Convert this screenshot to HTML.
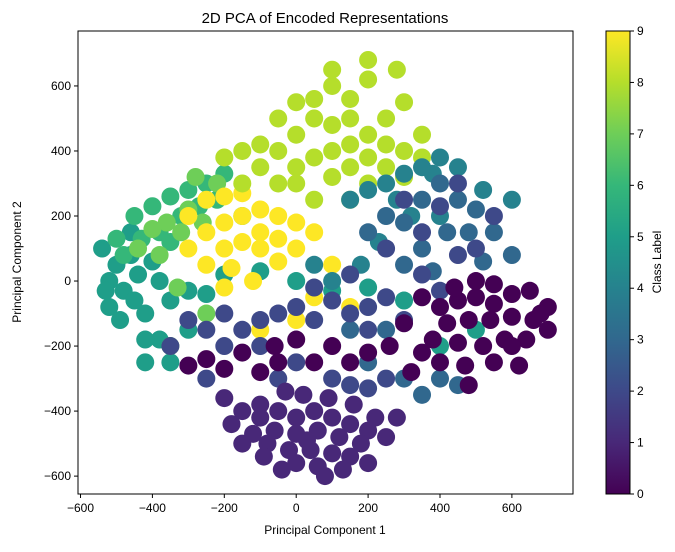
<!DOCTYPE html>
<html><head><meta charset="utf-8">
<style>
body{margin:0;background:#fff;}
svg text{font-family:"Liberation Sans","DejaVu Sans",sans-serif;fill:#000;}
</style></head>
<body>
<svg id="chart" width="675" height="547" viewBox="0 0 675 547">
<defs>
<linearGradient id="viridis" x1="0" y1="1" x2="0" y2="0">
<stop offset="0" stop-color="#440154"/><stop offset="0.111" stop-color="#482878"/>
<stop offset="0.222" stop-color="#3e4989"/><stop offset="0.333" stop-color="#31688e"/>
<stop offset="0.444" stop-color="#26828e"/><stop offset="0.556" stop-color="#1f9e89"/>
<stop offset="0.667" stop-color="#35b779"/><stop offset="0.778" stop-color="#6ece58"/>
<stop offset="0.889" stop-color="#b5de2b"/><stop offset="1" stop-color="#fde725"/>
</linearGradient>
<clipPath id="plotclip"><rect x="78" y="31" width="495" height="463"/></clipPath>
</defs>
<text x="325" y="23" font-size="15" text-anchor="middle">2D PCA of Encoded Representations</text>
<g id="points" clip-path="url(#plotclip)"></g>
<rect x="78" y="31" width="495" height="463" fill="none" stroke="#000" stroke-width="1"/>
<g id="xticks"></g>
<g id="yticks"></g>
<text x="325" y="534" font-size="12" text-anchor="middle">Principal Component 1</text>
<text x="21" y="262" font-size="12" text-anchor="middle" transform="rotate(-90 21 262)">Principal Component 2</text>
<rect x="606" y="31" width="24" height="463" fill="url(#viridis)" stroke="#000" stroke-width="1"/>
<g id="cbticks"></g>
<text x="661" y="262" font-size="12" text-anchor="middle" transform="rotate(-90 661 262)">Class Label</text>
</svg>
<script>
const classColors = ["#440154","#482878","#3e4989","#31688e","#26828e","#1f9e89","#35b779","#6ece58","#b5de2b","#fde725"];
const xTicks = [-600,-400,-200,0,200,400,600];
const yTicks = [-600,-400,-200,0,200,400,600];
const cbTicks = [0,1,2,3,4,5,6,7,8,9];
const drawOrder = [5,6,7,9,8,4,3,2,0,1];
const class0 = [350,-50,400,-80,450,-60,500,-50,550,-70,600,-40,650,-30,700,-80,420,-130,480,-120,540,-120,600,-110,660,-120,380,-180,450,-190,520,-200,580,-180,640,-180,400,-250,470,-260,350,-220,300,-130,550,-250,500,0,680,-100,260,-200,320,-280,-250,-240,-200,-270,-150,-220,-100,-280,-300,-260,-60,-200,0,-180,50,-250,100,-200,150,-250,600,-200,620,-260,550,-10,480,-320,440,-20,700,-150,-50,-250,200,-220];
const class1 = [-150,-400,-100,-420,-50,-400,0,-420,50,-400,100,-420,150,-440,200,-460,-120,-470,-60,-460,0,-470,60,-460,120,-480,180,-500,-20,-520,40,-520,100,-530,150,-540,0,-560,60,-570,-80,-500,220,-420,-180,-440,20,-350,90,-360,-30,-340,160,-380,250,-480,-200,-360,130,-580,-40,-580,-100,-380,200,-560,-150,-500,280,-420,30,-490,-90,-540,80,-600];
const class2 = [-300,-120,-250,-150,-200,-100,-150,-150,-100,-120,-50,-100,0,-80,50,-120,100,-60,150,-100,200,-80,-350,-200,-200,-200,-100,-200,0,-250,200,-150,250,-50,300,-120,350,20,400,-30,450,80,500,100,250,100,300,250,350,150,400,230,450,300,550,200,100,-300,150,-320,200,-330,-50,-300,250,-300,-250,-300,50,-20,150,20];
const class3 = [200,150,250,200,300,180,350,250,400,300,450,250,500,220,350,100,420,150,480,150,300,50,380,30,250,-150,300,-300,350,-350,400,-300,200,-250,150,-150,450,-320,550,150,600,80,520,60];
const class4 = [150,250,200,280,250,300,300,330,350,350,400,380,280,250,320,200,400,200,230,120,180,50,100,0,50,50,450,350,520,280,600,250,380,330];
const class5 = [-520,0,-500,50,-480,-30,-460,80,-440,20,-520,-80,-490,-120,-450,-60,-420,-100,-400,60,-380,0,-350,-60,-300,-30,-250,-40,-200,20,-380,-180,-420,-180,-300,-150,-540,100,-460,150,-420,-250,-350,-250,-100,30,0,0,100,-30,200,-20,300,-60,400,-200,500,-150,-530,-30];
const class6 = [-450,200,-400,230,-350,260,-300,280,-250,300,-200,330,-320,200,-380,150,-430,130,-500,130,-270,230,-220,250,-150,200,-480,80,-350,120];
const class7 = [-400,160,-360,180,-320,150,-440,100,-380,80,-300,220,-260,180,-280,320,-220,300,-350,-200,-250,-100,-330,-20];
const class8 = [0,350,50,380,100,400,150,420,200,380,250,350,300,400,-50,400,-100,350,-150,300,0,450,50,500,100,480,150,500,200,450,250,500,300,550,50,560,100,600,200,620,280,650,0,300,100,320,200,300,-50,500,150,560,-100,420,350,450,50,250,150,250,-150,400,-200,380,250,420,350,380,300,320,100,650,200,680,0,550,-50,300,150,350];
const class9 = [-250,150,-200,180,-150,200,-100,220,-50,200,-200,100,-150,120,-100,150,-50,130,0,180,-300,200,-250,250,-200,260,-150,270,-100,100,-50,60,0,100,50,150,-180,40,-120,0,-200,-20,100,50,50,-50,0,-120,-100,-150,150,-80,-300,100,-250,50];
const classPoints = [class0,class1,class2,class3,class4,class5,class6,class7,class8,class9];

const NS="http://www.w3.org/2000/svg";
const X0=78,X1=573,Y0=31,Y1=494;
const xMin=-607,xMax=770,yMin=-655,yMax=769;
function sx(v){return X0+(v-xMin)/(xMax-xMin)*(X1-X0);}
function sy(v){return Y1-(v-yMin)/(yMax-yMin)*(Y1-Y0);}
function cy(v){return 494-(v-0)/(9-0)*463;}

const pg=document.getElementById('points');
drawOrder.forEach(function(c){
  const arr=classPoints[c];
  for(let i=0;i<arr.length;i+=2){
    const el=document.createElementNS(NS,'circle');
    el.setAttribute('cx',sx(arr[i]));
    el.setAttribute('cy',sy(arr[i+1]));
    el.setAttribute('r',9);
    el.setAttribute('fill',classColors[c]);
    
    
    pg.appendChild(el);
  }
});

function tick(g,x1,y1,x2,y2){const l=document.createElementNS(NS,'line');l.setAttribute('x1',x1);l.setAttribute('y1',y1);l.setAttribute('x2',x2);l.setAttribute('y2',y2);l.setAttribute('stroke','#000');g.appendChild(l);return l;}
function label(g,x,y,t,anchor){const e=document.createElementNS(NS,'text');e.setAttribute('x',x);e.setAttribute('y',y);e.setAttribute('font-size','12');e.setAttribute('text-anchor',anchor);e.textContent=t;g.appendChild(e);return e;}
const xg=document.getElementById('xticks');
xTicks.forEach(function(v){
  tick(xg,sx(v),494,sx(v),498);
  const t=label(xg,sx(v),512,String(v).replace('-','\u2212'),'middle');
  
  
});
const yg=document.getElementById('yticks');
yTicks.forEach(function(v){
  tick(yg,74,sy(v),78,sy(v));
  const t=label(yg,71,sy(v)+4,String(v).replace('-','\u2212'),'end');
  
  
});
const cg=document.getElementById('cbticks');
cbTicks.forEach(function(v){
  tick(cg,630,cy(v),634,cy(v));
  const t=label(cg,637,cy(v)+4,String(v),'start');
  
  
});
</script>
</body></html>
